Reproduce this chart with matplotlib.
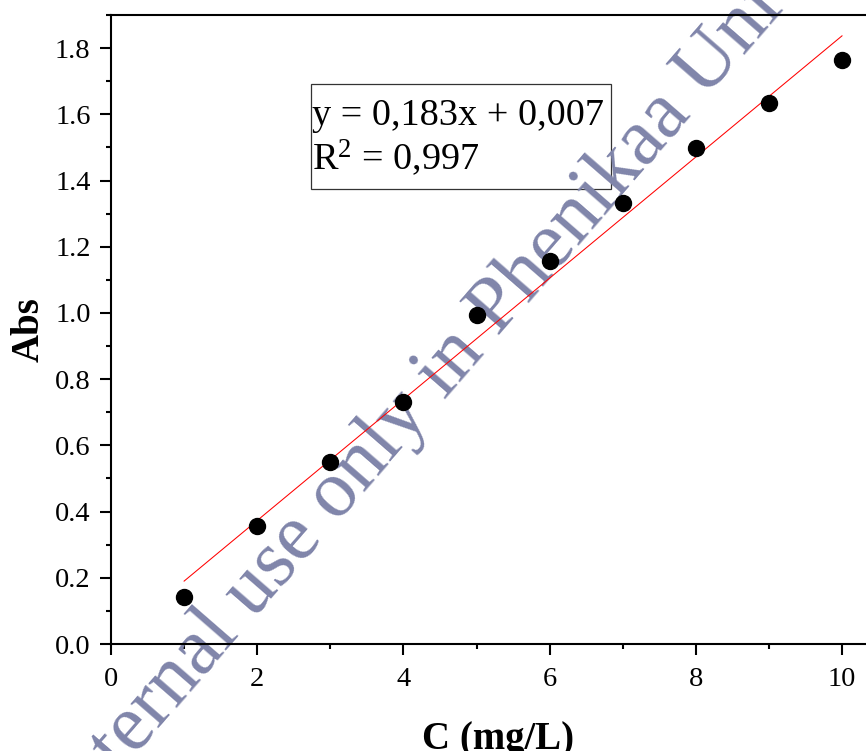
import numpy as np
import matplotlib
matplotlib.use("Agg")
import matplotlib.pyplot as plt
from matplotlib.patches import Rectangle
from matplotlib.ticker import MultipleLocator

plt.rcParams['font.family'] = ['Liberation Serif', 'DejaVu Serif']
plt.rcParams['mathtext.fontset'] = 'custom'
plt.rcParams['mathtext.rm'] = 'Liberation Serif'
plt.rcParams['mathtext.it'] = 'Liberation Serif:italic'
plt.rcParams['mathtext.bf'] = 'Liberation Serif:bold'

# ---- data ----
conc = np.array([1, 2, 3, 4, 5, 6, 7, 8, 9, 10])
absorb = np.array([0.142, 0.356, 0.550, 0.731, 0.994, 1.157, 1.331, 1.499, 1.635, 1.764])
slope = 0.183
intercept = 0.007
eq_text = "y = 0,183x + 0,007"
r2_text = "R$^2$ = 0,997"
xlabel = "C (mg/L)"
ylabel = "Abs"
watermark = "For internal use only in Phenikaa University"

W, H = 866, 751
fig = plt.figure(figsize=(W / 100, H / 100), dpi=100)
ax_left_px, ax_bottom_px, ax_top_px = 111, 644, 15
xmax = 10.6
ax_w_px = xmax * 73.1
ax = fig.add_axes([ax_left_px / W, (H - ax_bottom_px) / H, ax_w_px / W,
                   (ax_bottom_px - ax_top_px) / H])

ax.set_xlim(0, xmax)
ax.set_ylim(0, 1.9)

# fit line
x_fit = np.array([conc.min(), conc.max()])
ax.plot(x_fit, slope * x_fit + intercept, color='red', lw=0.75, zorder=3)
# points
ax.plot(conc, absorb, 'o', color='black', ms=11.5, zorder=4, clip_on=False)

ax.xaxis.set_major_locator(MultipleLocator(2))
ax.xaxis.set_minor_locator(MultipleLocator(1))
ax.yaxis.set_major_locator(MultipleLocator(0.2))
ax.yaxis.set_minor_locator(MultipleLocator(0.1))
ax.yaxis.set_major_formatter(matplotlib.ticker.FormatStrFormatter('%.1f'))

for s in ax.spines.values():
    s.set_linewidth(1.5)
ax.spines['right'].set_visible(False)
ax.tick_params(which='both', direction='out', width=1.5, top=False, right=False)
ax.tick_params(which='major', length=7.7, labelsize=20.5)
ax.tick_params(axis='y', which='major', pad=7)
ax.tick_params(axis='x', which='major', pad=9)
ax.tick_params(which='minor', length=3.6)

ax.set_xlabel(xlabel, fontsize=28, fontweight='bold')
ax.set_ylabel(ylabel, fontsize=28, fontweight='bold')
ax.xaxis.set_label_coords(0.5, -0.122)
ax.yaxis.set_label_coords(-0.082, 0.5)

# equation box
ax.add_patch(Rectangle((0.2577, 0.7229), 0.6449 - 0.2577, 0.8903 - 0.7229,
                       transform=ax.transAxes, fill=False, lw=0.9,
                       edgecolor='#333333', zorder=1.5))
ax.text(0.2594, 0.825, eq_text, transform=ax.transAxes, fontsize=27.5,
        ha='left', va='baseline', zorder=5)
ax.text(0.2594, 0.7536, r2_text, transform=ax.transAxes, fontsize=27.5,
        ha='left', va='baseline', zorder=5)

# watermark
angle = 49.0
wm_size = 58.0
fig.canvas.draw()
rend = fig.canvas.get_renderer()
t1 = fig.text(0, 0, "For internal use only in Phenikaa U", fontsize=wm_size)
t2 = fig.text(0, 0, "U", fontsize=wm_size)
pref_w = t1.get_window_extent(rend).width - t2.get_window_extent(rend).width
t1.remove()
t2.remove()
ux, uy = 705, H - 100  # baseline start of "U" (origin bottom-left)
a = np.deg2rad(angle)
sx = ux - pref_w * np.cos(a)
sy = uy - pref_w * np.sin(a)
ax.text(sx / W, sy / H, watermark, transform=fig.transFigure, fontsize=wm_size,
        rotation=angle, rotation_mode='anchor', ha='left', va='baseline',
        color='#8085aa', zorder=2, clip_on=False)

fig.savefig("out.png", dpi=100)
